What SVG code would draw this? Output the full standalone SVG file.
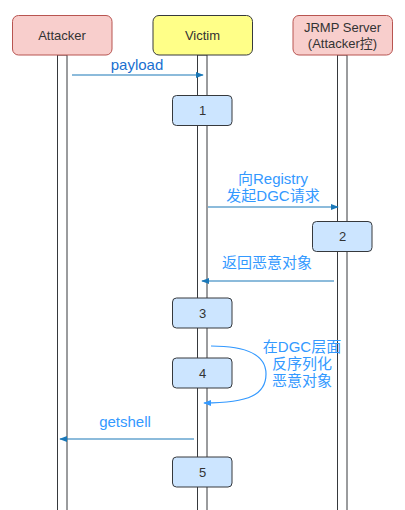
<svg xmlns="http://www.w3.org/2000/svg" width="405" height="510" viewBox="0 0 405 510">
<defs>
<style>
.lt{font-family:"Liberation Sans",Arial,"Noto Sans CJK SC",sans-serif;font-size:13px;fill:#333;text-anchor:middle}
.life{fill:#fff;stroke:#36393d;stroke-width:1}
.act{fill:#cce5ff;stroke:#36393d;stroke-width:1}
.msg{fill:none;stroke:#1a78b8;stroke-width:1.2}
.lbl{font-family:"Liberation Sans","Noto Sans CJK SC",sans-serif;font-size:15px;fill:#3399ff;text-anchor:middle}
</style>
<marker id="ah" viewBox="0 0 10 10" refX="9" refY="5" markerWidth="8" markerHeight="8" markerUnits="userSpaceOnUse" orient="auto"><path d="M0,1 L10,5 L0,9 Z" fill="#1a78b8"/></marker>
<marker id="ah2" viewBox="0 0 10 10" refX="9" refY="5" markerWidth="8" markerHeight="8" markerUnits="userSpaceOnUse" orient="auto"><path d="M0,1 L10,5 L0,9 Z" fill="#3399ff"/></marker>
</defs>
<rect width="405" height="510" fill="#fff"/>
<g id="lifelines">
<rect class="life" x="57.5" y="55" width="9.5" height="460"/>
<rect class="life" x="197.5" y="55" width="9.5" height="460"/>
<rect class="life" x="337.5" y="55" width="9.5" height="460"/>
</g>
<g id="attacker">
<rect x="12.5" y="15.5" width="99.5" height="39.5" rx="6" fill="#f8cecc" stroke="#b85450"/>
<text class="lt" x="62" y="40">Attacker</text>
</g>
<g id="victim">
<rect x="153" y="15.5" width="99.5" height="39.5" rx="6" fill="#ffff88" stroke="#36393d"/>
<text class="lt" x="202.5" y="40">Victim</text>
</g>
<g id="jrmp">
<rect x="293" y="15.5" width="99.5" height="39.5" rx="6" fill="#f8cecc" stroke="#b85450"/>
<text class="lt" x="342.5" y="32">JRMP Server</text>
<text class="lt" x="342.5" y="48">(Attacker控)</text>
</g>
<g id="a1"><rect class="act" x="172.5" y="95.5" width="59.5" height="30" rx="4"/><text class="lt" x="202.5" y="115">1</text></g>
<g id="a2"><rect class="act" x="312.5" y="221.5" width="59.5" height="30" rx="4"/><text class="lt" x="342.5" y="241">2</text></g>
<g id="a3"><rect class="act" x="172.5" y="298" width="59.5" height="30" rx="4"/><text class="lt" x="202.5" y="317.5">3</text></g>
<g id="a4"><rect class="act" x="172.5" y="358" width="59.5" height="30" rx="4"/><text class="lt" x="202.5" y="377.5">4</text></g>
<g id="a5"><rect class="act" x="172.5" y="457" width="59.5" height="30" rx="4"/><text class="lt" x="202.5" y="476.5">5</text></g>
<g id="connectors">
<line class="msg" x1="72" y1="75" x2="203" y2="75" marker-end="url(#ah)"/>
<line class="msg" x1="208" y1="207" x2="338" y2="207" marker-end="url(#ah)"/>
<line class="msg" x1="334" y1="281" x2="202" y2="281" marker-end="url(#ah)"/>
<path d="M211,346 C250,346 266,356 266,374 C266,394 250,403 204,403" fill="none" stroke="#3399ff" stroke-width="1.2" marker-end="url(#ah2)"/>
<line class="msg" x1="194" y1="439" x2="60" y2="439" marker-end="url(#ah)"/>
</g>
<g id="labels">
<text class="lbl" x="137" y="70" style="fill:#1a6fd0">payload</text>
<text class="lbl" x="273" y="184">向Registry</text>
<text class="lbl" x="273" y="201">发起DGC请求</text>
<text class="lbl" x="267" y="268">返回恶意对象</text>
<text class="lbl" x="302" y="352">在DGC层面</text>
<text class="lbl" x="302" y="369">反序列化</text>
<text class="lbl" x="302" y="386">恶意对象</text>
<text class="lbl" x="125" y="427">getshell</text>
</g>
</svg>
